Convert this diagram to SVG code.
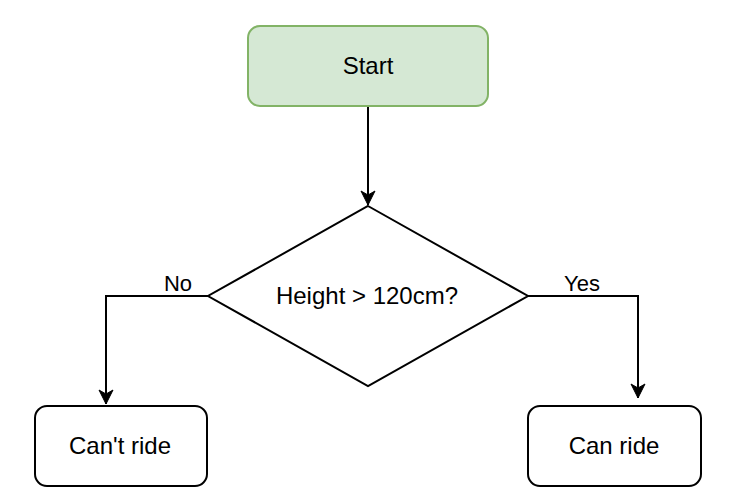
<svg xmlns="http://www.w3.org/2000/svg" width="746" height="492" viewBox="0 0 746 492">
<style>
.node{stroke:#000;stroke-width:2;fill:#fff}
.start{fill:#d5e8d4;stroke:#82b366;stroke-width:2}
.t{font-family:"Liberation Sans",Arial,sans-serif;font-size:24px;fill:#000;text-anchor:middle}
.lbl{font-family:"Liberation Sans",Arial,sans-serif;font-size:22px;fill:#000;text-anchor:middle}
.edge{fill:none;stroke:#000;stroke-width:2}
</style>
<defs>
<marker id="arr" markerUnits="userSpaceOnUse" viewBox="-16 -9 18 18" refX="0" refY="0" markerWidth="18" markerHeight="18" orient="auto">
<path d="M0,0 L-14,-7 L-10,0 L-14,7 Z" fill="#000" stroke="#000" stroke-width="1"/>
</marker>
</defs>
<rect width="746" height="492" fill="#fff"/>
<g id="edges">
<path class="edge" d="M368,106 L368,205" marker-end="url(#arr)"/>
<path class="edge" d="M208,296 L106,296 L106,404" marker-end="url(#arr)"/>
<path class="edge" d="M528,296 L638,296 L638,398" marker-end="url(#arr)"/>
<text class="lbl" x="178" y="291">No</text>
<text class="lbl" x="582" y="291">Yes</text>
</g>
<g id="start">
<rect class="start" x="248" y="26" width="240" height="80" rx="12"/>
<text class="t" x="368" y="73.5">Start</text>
</g>
<g id="decision">
<polygon class="node" points="368,206 528,296 368,386 208,296"/>
<text class="t" x="367" y="303.5">Height &gt; 120cm?</text>
</g>
<g id="cant">
<rect class="node" x="35" y="406" width="172" height="80" rx="12"/>
<text class="t" x="120" y="453.5">Can't ride</text>
</g>
<g id="can">
<rect class="node" x="528" y="406" width="173" height="80" rx="12"/>
<text class="t" x="614" y="453.5">Can ride</text>
</g>
</svg>
